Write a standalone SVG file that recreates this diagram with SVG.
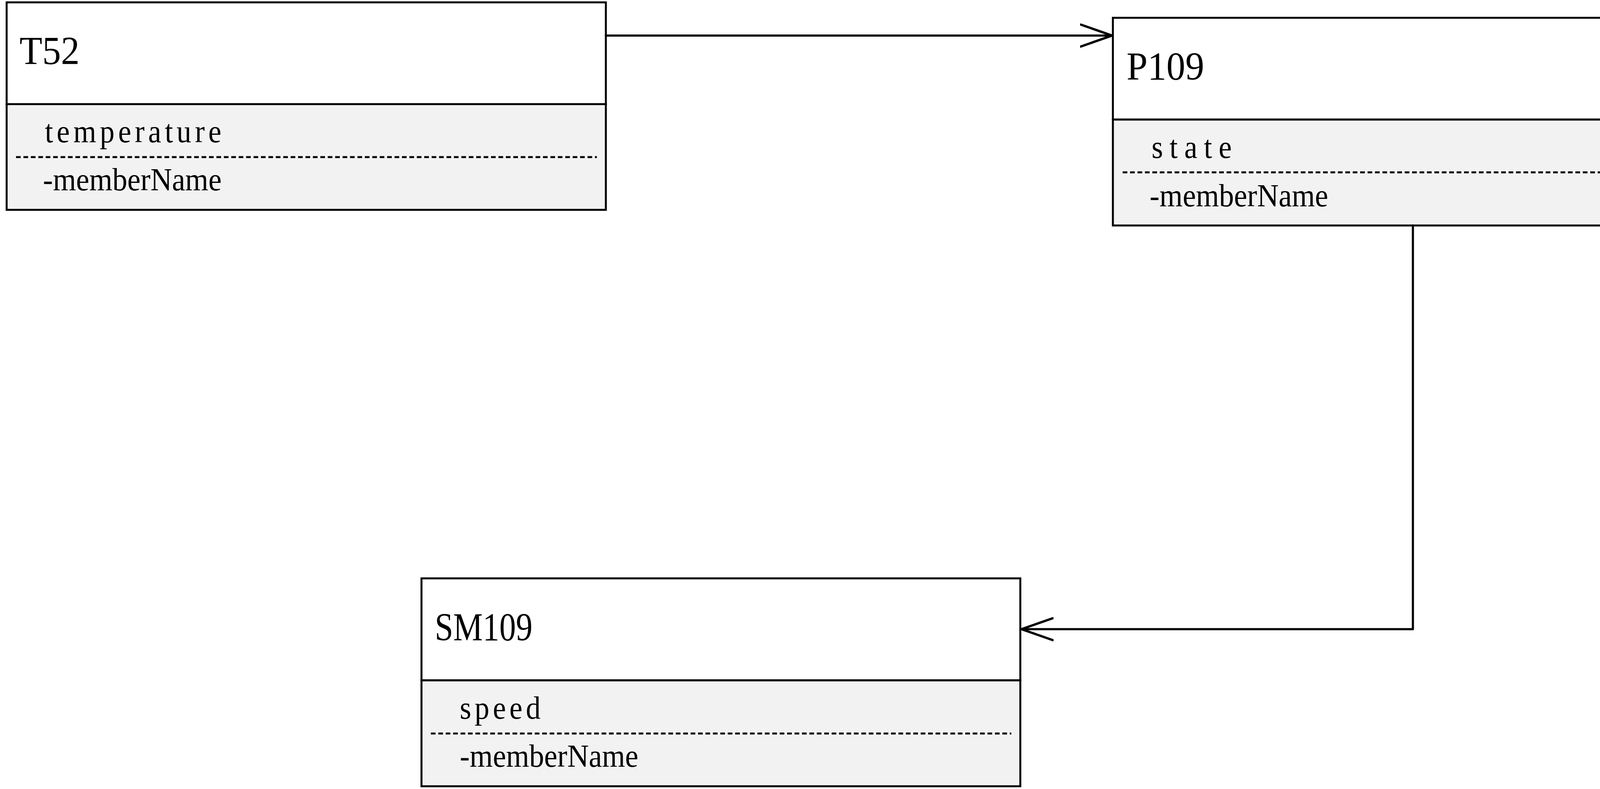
<svg xmlns="http://www.w3.org/2000/svg" width="4388" height="2019" viewBox="0 0 4388 2019">
<style>
.hdr{fill:#ffffff;stroke:#000;stroke-width:5}
.body{fill:#f2f2f2;stroke:#000;stroke-width:5}
.sep{stroke:#000;stroke-width:5;stroke-dasharray:12 7;fill:none}
.title{font-family:"Liberation Serif",serif;font-size:102px;fill:#000}
.attr{font-family:"Liberation Serif",serif;font-size:82px;fill:#000}
.conn{stroke:#000;stroke-width:5.5;fill:none;stroke-linecap:round;stroke-linejoin:round}
</style>
<defs>
<marker id="open" markerUnits="userSpaceOnUse" viewBox="0 0 90 70" refX="82" refY="35" markerWidth="90" markerHeight="70" orient="auto">
<path d="M2,7 L82,35 L2,63" fill="none" stroke="#000" stroke-width="6" stroke-linecap="round" stroke-linejoin="round"/>
</marker>
</defs>
<rect width="4388" height="2019" fill="#ffffff"/>
<g id="T52">
<rect class="hdr" x="17" y="6" width="1534" height="260.5"/>
<rect class="body" x="17" y="266.5" width="1534" height="270.5"/>
<line class="sep" x1="41" y1="402" x2="1528" y2="402"/>
<g transform="scale(0.92 1)">
<text class="title" x="54.4" y="164" textLength="167" lengthAdjust="spacingAndGlyphs">T52</text>
<text class="attr" x="125" y="364" textLength="491" lengthAdjust="spacing">temperature</text>
<text class="attr" x="119.6" y="487" textLength="497" lengthAdjust="spacingAndGlyphs">-memberName</text>
</g>
</g>
<g id="P109">
<rect class="hdr" x="2849" y="45.5" width="1535" height="260.5"/>
<rect class="body" x="2849" y="306" width="1535" height="271"/>
<line class="sep" x1="2874" y1="441" x2="4361" y2="441"/>
<g transform="scale(0.92 1)">
<text class="title" x="3134.8" y="204" textLength="216" lengthAdjust="spacingAndGlyphs">P109</text>
<text class="attr" x="3204.3" y="404" textLength="223" lengthAdjust="spacing">state</text>
<text class="attr" x="3198.9" y="528" textLength="497" lengthAdjust="spacingAndGlyphs">-memberName</text>
</g>
</g>
<g id="SM109">
<rect class="hdr" x="1079" y="1480" width="1533" height="261"/>
<rect class="body" x="1079" y="1741" width="1533" height="271"/>
<line class="sep" x1="1103" y1="1877" x2="2589" y2="1877"/>
<g transform="scale(0.92 1)">
<text class="title" x="1209.8" y="1639" textLength="272" lengthAdjust="spacingAndGlyphs">SM109</text>
<text class="attr" x="1279.3" y="1839" textLength="225" lengthAdjust="spacing">speed</text>
<text class="attr" x="1279.3" y="1962" textLength="497" lengthAdjust="spacingAndGlyphs">-memberName</text>
</g>
</g>
<g id="connectors">
<path class="conn" d="M1551,91 L2847,91" marker-end="url(#open)"/>
<path class="conn" d="M3617,577 L3617,1610 L2615,1610" marker-end="url(#open)"/>
</g>
</svg>
